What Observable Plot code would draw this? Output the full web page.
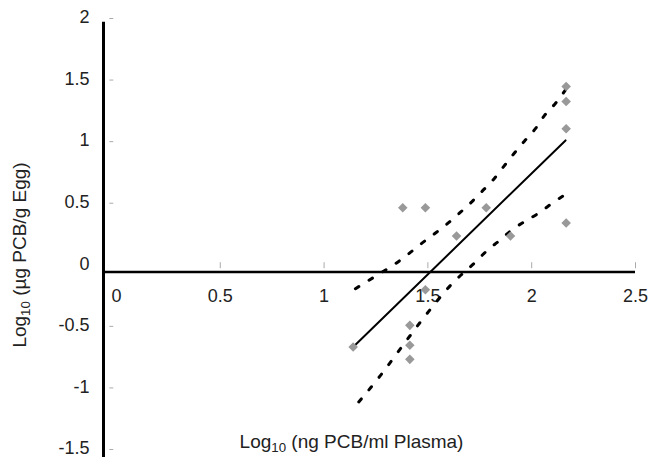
<!DOCTYPE html>
<html>
<head>
<meta charset="utf-8">
<script src="https://cdn.jsdelivr.net/npm/d3@7"></script>
<script src="https://cdn.jsdelivr.net/npm/@observablehq/plot@0.6"></script>
<style>
  html, body { margin: 0; padding: 0; background: #fff; }
  #chart svg { display: block; }
</style>
</head>
<body>
<div id="chart"></div>
<script>
// Tick values and labels
const xTicks = [0, 0.5, 1, 1.5, 2, 2.5];
const xTickLabels = ["0", "0.5", "1", "1.5", "2", "2.5"];
const xTickMarks = [0.5, 1, 1.5, 2, 2.5];
const yTicks = [-1.5, -1, -0.5, 0, 0.5, 1, 1.5, 2];
const yTickLabels = ["-1.5", "-1", "-0.5", "0", "0.5", "1", "1.5", "2"];
const yTickMarks = [-1.5, -1, -0.5, 0.5, 1, 1.5, 2];

// Observations: log10 plasma PCB (x) vs log10 egg PCB (y)
const plasma = [2.166, 2.166, 2.166, 2.166, 1.379, 1.488, 1.781, 1.638, 1.898, 1.488, 1.413, 1.413, 1.413, 1.140];
const egg    = [1.448, 1.326, 1.105, 0.339, 0.463, 0.463, 0.463, 0.233, 0.233, -0.202, -0.492, -0.654, -0.768, -0.668];

// Regression line
const fitX = [1.140, 2.163];
const fitY = [-0.668, 1.010];

// Upper confidence band
const upperX = [1.151, 1.215, 1.280, 1.344, 1.408, 1.468, 1.532, 1.590, 1.649, 1.705, 1.762, 1.815, 1.863, 1.911, 1.965, 2.018, 2.062, 2.115, 2.163];
const upperY = [-0.194, -0.127, -0.059, 0.009, 0.090, 0.171, 0.252, 0.328, 0.415, 0.501, 0.598, 0.691, 0.793, 0.896, 1.004, 1.105, 1.213, 1.312, 1.420];

// Lower confidence band
const lowerX = [1.167, 1.272, 1.368, 1.464, 1.617, 1.729, 1.786, 1.846, 1.906, 1.970, 2.034, 2.099, 2.163];
const lowerY = [-1.114, -0.898, -0.681, -0.465, -0.153, 0.022, 0.117, 0.198, 0.285, 0.355, 0.420, 0.500, 0.571];

const xTitle = "Log10 (ng PCB/ml Plasma)";
const yTitle = "Log10 (µg PCB/g Egg)";

// Where the drawn axes cross
const xCross = -0.0625;
const yCross = -0.058;

const font = "'Liberation Sans', Arial, Helvetica, sans-serif";
const tickFont = 18;
const titleFont = 19;

const chart = Plot.plot({
  width: 648,
  height: 457,
  marginLeft: 103,
  marginRight: 13,
  marginTop: 18,
  marginBottom: 0,
  style: { fontFamily: font, background: "#fff", overflow: "visible" },
  x: { domain: [xCross, 2.5], axis: null },
  y: { domain: [-1.565, 2], axis: null },
  marks: [
    // tick marks
    Plot.ruleX(xTickMarks, { x: d => d, y1: () => 0.017, y2: () => -0.032, stroke: "#aaa", strokeWidth: 1 }),
    Plot.ruleY(yTickMarks, { y: d => d, x1: () => -0.032, x2: () => -0.013, stroke: "#aaa", strokeWidth: 1 }),
    // axis lines
    Plot.ruleY([yCross], { x1: () => xCross, x2: () => 2.5, stroke: "#000", strokeWidth: 2.5 }),
    Plot.ruleX([xCross], { y1: () => -1.565, y2: () => 1.97, stroke: "#000", strokeWidth: 3 }),
    // tick labels
    Plot.text(xTickLabels, { x: (d, i) => xTicks[i], y: () => yCross, dy: 24, text: d => d, fontSize: tickFont, fill: "#222", lineAnchor: "middle" }),
    Plot.text(yTickLabels, { x: () => xCross, y: (d, i) => yTicks[i], dx: -14, dy: -1, text: d => d, textAnchor: "end", fontSize: tickFont, fill: "#222", lineAnchor: "middle" }),
    // confidence bands
    Plot.line(upperX, { x: d => d, y: (d, i) => upperY[i], stroke: "#000", strokeWidth: 3, strokeDasharray: "4,12", curve: "monotone-x" }),
    Plot.line(lowerX, { x: d => d, y: (d, i) => lowerY[i], stroke: "#000", strokeWidth: 3, strokeDasharray: "4,12", curve: "monotone-x" }),
    // regression line
    Plot.line(fitX, { x: d => d, y: (d, i) => fitY[i], stroke: "#000", strokeWidth: 2 }),
    // data points
    Plot.dot(plasma, { x: d => d, y: (d, i) => egg[i], symbol: "diamond2", r: 4.3, fill: "#999", stroke: "none" }),
    // axis titles
    Plot.text([xTitle], { frameAnchor: "bottom", dx: -18, dy: -16, text: d => d, fontSize: titleFont, fill: "#222", textAnchor: "middle", lineAnchor: "middle" }),
    Plot.text([yTitle], { frameAnchor: "left", dx: -84, dy: 17, rotate: -90, text: d => d, fontSize: titleFont, fill: "#222", textAnchor: "middle", lineAnchor: "middle" })
  ]
});

document.getElementById("chart").appendChild(chart);

// Render "10" in the titles as a subscript
d3.select(chart).selectAll("text").each(function () {
  const t = d3.select(this);
  const s = this.textContent;
  if (s.startsWith("Log10")) {
    const rest = s.slice(5);
    t.text(null);
    t.append("tspan").text("Log");
    t.append("tspan").attr("font-size", "0.7em").attr("dy", 4).text("10");
    t.append("tspan").attr("dy", -4).text(rest);
  }
});
</script>
</body>
</html>
